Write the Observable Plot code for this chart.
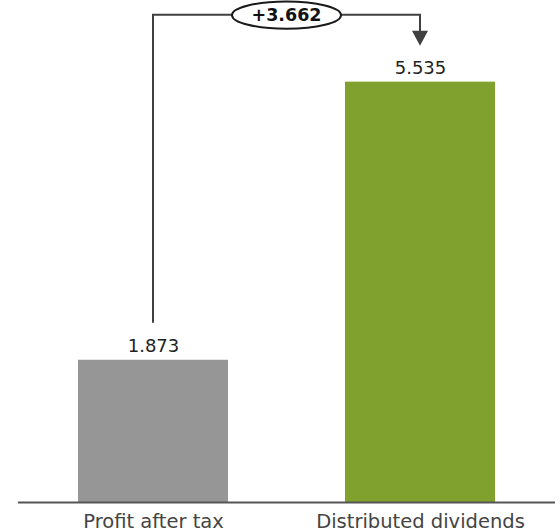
<!DOCTYPE html>
<html><head><meta charset="utf-8">
<script src="https://cdn.jsdelivr.net/npm/d3@7"></script>
<script src="https://cdn.jsdelivr.net/npm/@observablehq/plot@0.6"></script>
<style>body{margin:0;background:#fff} svg{display:block}</style>
</head><body><div id="chart"></div>
<script>
const categories = ["Profit after tax", "Distributed dividends"];
const values = [1.873, 5.535];
const barColors = ["#969696", "#80a12e"];
const valueLabels = ["1.873", "5.535"];
const deltaLabel = "+3.662";

const data = categories.map((c, i) => ({category: c, value: values[i], color: barColors[i], label: valueLabels[i]}));

function connector(index, scales) {
  const x = scales.x, y = scales.y;
  const bw = x.bandwidth ? x.bandwidth() : 0;
  const xa = x(categories[0]) + bw / 2, xb = x(categories[1]) + bw / 2;
  const ya = y(values[0]) - 37, yb = y(values[1]) - 36;
  const yTop = y(d3.max(values)) - 67;
  const g = d3.create("svg:g");
  g.append("path").attr("d", `M${xa},${ya}V${yTop}H${xb}V${yb - 12}`)
    .attr("fill", "none").attr("stroke", "#404040").attr("stroke-width", 2);
  g.append("path").attr("d", `M${xb - 8},${yb - 15}L${xb + 8},${yb - 15}L${xb},${yb}Z`).attr("fill", "#404040");
  const xm = (xa + xb) / 2;
  g.append("ellipse").attr("cx", xm).attr("cy", yTop + 0.5).attr("rx", 54.5).attr("ry", 13.6)
    .attr("fill", "#fff").attr("stroke", "#1a1a1a").attr("stroke-width", 2);
  g.append("text").attr("x", xm).attr("y", yTop).attr("dy", "0.35em").attr("text-anchor", "middle")
    .attr("font-weight", "bold").attr("font-size", 17.5).attr("fill", "#111").text(deltaLabel);
  return g.node();
}

const chart = Plot.plot({
  width: 560, height: 532,
  marginTop: 0, marginBottom: 30, marginLeft: 18, marginRight: 5,
  style: {fontFamily: "'DejaVu Sans', Verdana, sans-serif", background: "#fff"},
  x: {domain: categories, paddingInner: 0.44, paddingOuter: 0.222, label: null, axis: null},
  y: {domain: [0, 6.61], axis: null},
  color: {type: "identity"},
  marks: [
    Plot.barY(data, {x: "category", y: "value", fill: "color"}),
    Plot.ruleY([0], {stroke: "#555", strokeWidth: 2}),
    Plot.text(data, {x: "category", y: "value", text: "label", lineAnchor: "bottom", dy: -8.5, fontSize: 18, fill: "#222"}),
    Plot.axisX({tickSize: 0, tickPadding: 12, fontSize: 19.5, color: "#444", label: null}),
    connector
  ]
});
document.getElementById("chart").appendChild(chart);
</script>
</body></html>
